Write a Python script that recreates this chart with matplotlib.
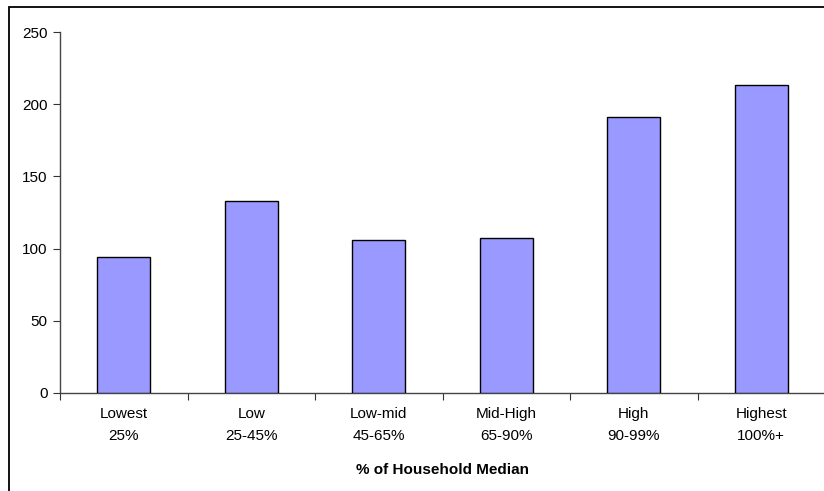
import matplotlib
matplotlib.use("Agg")
import matplotlib.pyplot as plt
from matplotlib.patches import Rectangle
import numpy as np

plt.rcParams['font.family'] = ['Liberation Sans', 'DejaVu Sans']

categories = ["Lowest\n25%", "Low\n25-45%", "Low-mid\n45-65%", "Mid-High\n65-90%", "High\n90-99%", "Highest\n100%+"]
values = [94, 133, 106, 107, 191, 213]
yticks = [0, 50, 100, 150, 200, 250]
xlabel = "% of Household Median"

W, H = 824, 491
fig = plt.figure(figsize=(W / 100, H / 100), dpi=100)

# outer chart-area frame (only top and left edges visible)
fig.patches.append(Rectangle((9 / W, -0.1), 2, (H - 7) / H + 0.1, transform=fig.transFigure,
                             fill=False, edgecolor='black', linewidth=1.3))

ax_left, ax_right = 60 / W, 825 / W
ax_bottom, ax_top = 1 - 393 / H, 1 - 32 / H
ax = fig.add_axes([ax_left, ax_bottom, ax_right - ax_left, ax_top - ax_bottom])

x = np.arange(len(categories))
ax.bar(x, values, width=0.415, color='#9999FF', edgecolor='black', linewidth=1.0, zorder=3)

ax.set_xlim(-0.5, len(categories) - 0.5)
ax.set_ylim(0, 250)
ax.set_yticks(yticks)
ax.set_yticklabels([str(v) for v in yticks], fontsize=11)

ax.set_xticks(np.arange(len(categories) + 1) - 0.5)
ax.set_xticklabels([])
ax.set_xticks(x, minor=True)
ax.set_xticklabels(categories, minor=True, fontsize=11, linespacing=1.75)
ax.tick_params(axis='x', which='minor', length=0, pad=10)
ax.tick_params(axis='x', which='major', direction='out', length=5, color='#333333')
ax.tick_params(axis='y', direction='out', length=5, color='#333333', pad=4)

for s in ['top', 'right']:
    ax.spines[s].set_visible(False)
for s in ['left', 'bottom']:
    ax.spines[s].set_color('#444444')
    ax.spines[s].set_linewidth(1.0)

ax.set_xlabel(xlabel, fontsize=11, fontweight='bold', labelpad=14)

fig.savefig("out.png", dpi=100)
